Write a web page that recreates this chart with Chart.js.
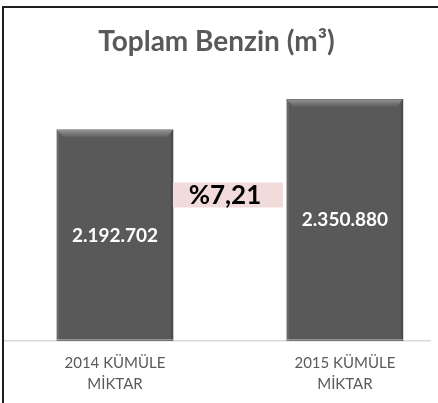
<!DOCTYPE html>
<html>
<head>
<meta charset="utf-8">
<script src="https://cdn.jsdelivr.net/npm/chart.js@4"></script>
<style>
  html, body { margin: 0; padding: 0; background: #fff; }
  #wrap { position: relative; width: 438px; height: 403px; }
  #frame { position: absolute; left: 2px; top: 6px; right: 0; bottom: 0;
           border-left: 2px solid #1e1e1e; border-top: 2px solid #1e1e1e; pointer-events: none; }
</style>
</head>
<body>
<div id="wrap">
  <canvas id="benzin" width="438" height="403"></canvas>
  <div id="frame"></div>
</div>
<script>
var categories = [["2014 KÜMÜLE", "MİKTAR"], ["2015 KÜMÜLE", "MİKTAR"]];
var volumes = [2192702, 2350880];
var titleText = "Toplam Benzin (m³)";
var yMin = 1100000, yMax = 2500000;

// yuzde degisim, ornek: %7,21
var change = (volumes[1] / volumes[0] - 1) * 100;
var changeLabel = "%" + change.toFixed(2).replace(".", ",");

const fmt = (v) => String(v).replace(/\B(?=(\d{3})+(?!\d))/g, ".");

// bar ust kenari icin hafif kabartma
var bevelPlugin = {
  id: "bevel",
  afterDatasetsDraw(chart) {
    var ctx = chart.ctx;
    chart.getDatasetMeta(0).data.forEach(function (bar) {
      var l = bar.x - bar.width / 2, r = bar.x + bar.width / 2, t = bar.y, b = bar.base;
      ctx.save();
      var g = ctx.createLinearGradient(0, t, 0, t + 8);
      g.addColorStop(0, "rgba(255,255,255,0.35)");
      g.addColorStop(1, "rgba(255,255,255,0.0)");
      ctx.fillStyle = g;
      ctx.beginPath();
      ctx.moveTo(l, t); ctx.lineTo(r, t); ctx.lineTo(r - 7, t + 8); ctx.lineTo(l + 7, t + 8);
      ctx.closePath(); ctx.fill();
      ctx.fillStyle = "rgba(255,255,255,0.10)";
      ctx.fillRect(l, t, 2, b - t);
      ctx.fillStyle = "rgba(0,0,0,0.15)";
      ctx.fillRect(r - 2, t, 2, b - t);
      ctx.fillStyle = "rgba(255,255,255,0.35)";
      ctx.fillRect(l, b - 2, bar.width, 1.5);
      ctx.restore();
    });
  }
};

var labelPlugin = {
  id: "valueLabels",
  afterDraw(chart) {
    var ctx = chart.ctx;
    var bars = chart.getDatasetMeta(0).data;
    ctx.save();
    ctx.textAlign = "center";
    ctx.textBaseline = "middle";
    ctx.fillStyle = "#ffffff";
    ctx.font = "bold 19px Lato";
    bars.forEach(function (bar, i) {
      ctx.fillText(fmt(volumes[i]), bar.x, (bar.y + bar.base) / 2);
    });
    // degisim kutusu
    var cx = (bars[0].x + bars[1].x) / 2 - 2;
    var cy = chart.scales.y.getPixelForValue(1856000);
    ctx.fillStyle = "#f2dcdb";
    ctx.fillRect(cx - 55, cy - 12.5, 110, 25);
    ctx.fillStyle = "#000000";
    ctx.font = "bold 26px Lato";
    ctx.fillText(changeLabel, cx - 3, cy + 1);
    ctx.restore();
  }
};

var ctx = document.getElementById("benzin").getContext("2d");
let benzinChart = new Chart(ctx, {
  type: "bar",
  data: {
    datasets: [{
      data: volumes.map(function (v, i) { return { x: i, y: v }; }),
      backgroundColor: "#595959",
      borderWidth: 0,
      base: yMin,
      barThickness: 116
    }]
  },
  options: {
    responsive: false,
    animation: false,
    layout: { padding: { top: 20, left: 3, right: 8, bottom: -4 } },
    plugins: {
      legend: { display: false },
      tooltip: { enabled: false },
      title: {
        display: true,
        text: titleText,
        color: "#595959",
        font: { family: "Lato", size: 28, weight: "bold" },
        padding: { top: 5, bottom: 12 }
      }
    },
    scales: {
      x: {
        type: "linear",
        offset: false,
        min: -0.487,
        max: 1.37,
        grid: { display: false, drawTicks: false, offset: false },
        border: { display: true, color: "#d9d9d9", width: 1.5 },
        ticks: {
          stepSize: 1,
          includeBounds: false,
          padding: 12,
          color: "#595959",
          font: { family: "Lato", size: 15, lineHeight: 1.4 },
          maxRotation: 0,
          autoSkip: false,
          callback: function (v) { return categories[v] || ""; }
        }
      },
      y: {
        display: false,
        min: yMin,
        max: yMax
      }
    }
  },
  plugins: [bevelPlugin, labelPlugin]
});
</script>
</body>
</html>
